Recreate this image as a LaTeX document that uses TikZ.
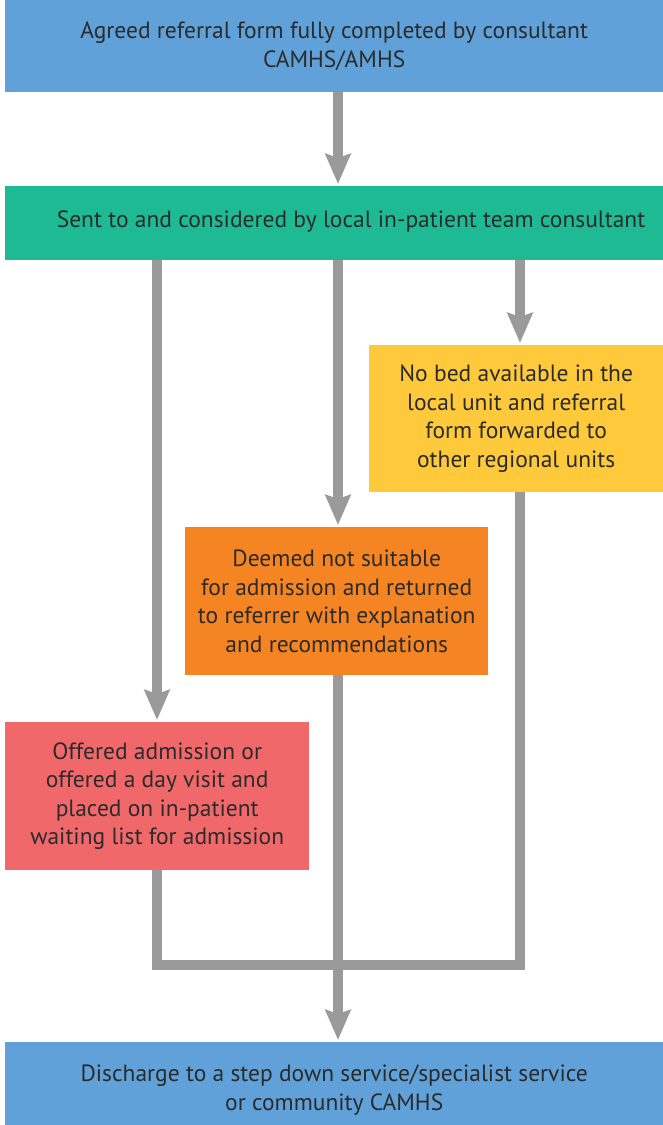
\documentclass[tikz,border=0pt]{standalone}
\usepackage{fontspec}
\setmainfont{PT Sans}
\usetikzlibrary{arrows.meta, positioning}

\definecolor{boxblue}{HTML}{5FA1D8}
\definecolor{boxgreen}{HTML}{1DBA93}
\definecolor{boxyellow}{HTML}{FFC93C}
\definecolor{boxorange}{HTML}{F58522}
\definecolor{boxred}{HTML}{F1686B}
\definecolor{flowgray}{HTML}{9B9A9B}
\definecolor{txt}{HTML}{2B2B2B}

\tikzset{
  stage/.style={anchor=north west, inner sep=0pt, align=center, text=txt,
    font=\fontsize{23.5}{28.5}\selectfont},
  flow/.style={draw=flowgray, line width=10pt, line join=miter},
  flowarr/.style={flow, -{Stealth[length=30pt, width=25pt, inset=4pt]}, shorten >=2pt}
}

\begin{document}
\begin{tikzpicture}[x=1pt, y=-1pt]
  \useasboundingbox (0,0) rectangle (663,1125);

  % boxes
  \node[stage, fill=boxblue, minimum width=658pt, minimum height=92pt]   (refer)  at (5,0)
    {Agreed referral form fully completed by consultant\\CAMHS/AMHS};
  \node[stage, fill=boxgreen, minimum width=658pt, minimum height=74pt]  (local)  at (5,186) {};
  \node[text=txt, font=\fontsize{23.5}{28.5}\selectfont] (localtxt) at (351,222)
    {Sent to and considered by local in-patient team consultant};
  \node[stage, fill=boxyellow, minimum width=294pt, minimum height=147pt] (nobed)  at (369,345)
    {No bed available in the\\local unit and referral\\form forwarded to\\other regional units};
  \node[stage, fill=boxorange, minimum width=303pt, minimum height=148pt] (notsuit) at (185,527)
    {Deemed not suitable\\for admission and returned\\to referrer with explanation\\and recommendations};
  \node[stage, fill=boxred, minimum width=304pt, minimum height=148pt]   (offer)  at (5,722)
    {Offered admission or\\offered a day visit and\\placed on in-patient\\waiting list for admission};
  \node[stage, fill=boxblue, minimum width=658pt, minimum height=96pt]   (disch)  at (5,1042)
    {Discharge to a step down service/specialist service\\or community CAMHS};

  % columns
  \coordinate (cL) at (157,0);
  \coordinate (cM) at (338,0);
  \coordinate (cR) at (520,0);
  \coordinate (join) at (338,965);

  % connectors
  \draw[flowarr] (refer.south -| cM) -- (local.north -| cM);
  \draw[flowarr] (local.south -| cL) -- (offer.north -| cL);
  \draw[flowarr] (local.south -| cM) -- (notsuit.north -| cM);
  \draw[flowarr] (local.south -| cR) -- (nobed.north -| cR);
  \draw[flow] (offer.south -| cL) -- (cL |- join) -- (cR |- join) -- (nobed.south -| cR);
  \draw[flowarr] (notsuit.south -| cM) -- (disch.north -| cM);
\end{tikzpicture}
\end{document}
